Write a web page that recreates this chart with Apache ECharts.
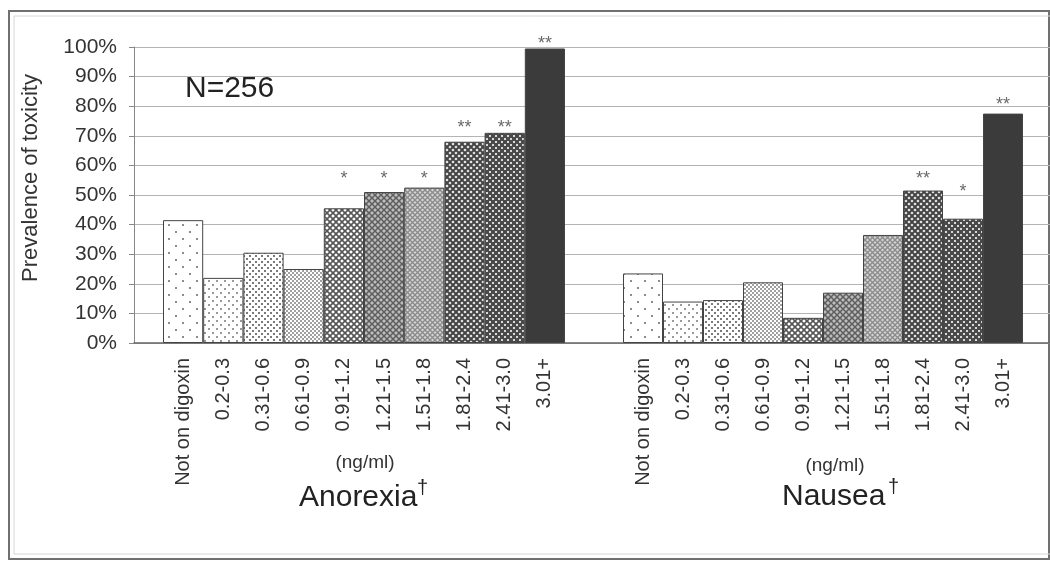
<!DOCTYPE html>
<html>
<head>
<meta charset="utf-8">
<title>Prevalence of toxicity</title>
<script src="https://cdn.jsdelivr.net/npm/echarts@6/dist/echarts.min.js"></script>
<style>
html, body { margin: 0; padding: 0; background: #fff; }
#chart { width: 1050px; height: 565px; }
</style>
</head>
<body>
<div id="chart"></div>
<script>
// 血药浓度分组 (ng/ml)
var levels = ['Not on digoxin', '0.2-0.3', '0.31-0.6', '0.61-0.9', '0.91-1.2',
  '1.21-1.5', '1.51-1.8', '1.81-2.4', '2.41-3.0', '3.01+']
// 毒性发生率 (%)
var anorexia = [41.5, 22, 30.5, 25, 45.5, 51, 52.5, 68, 71, 99.5]
var nausea = [23.5, 14, 14.5, 20.5, 8.5, 17, 36.5, 51.5, 42, 77.5]
// 显著性标记及其高度
var anorexiaStars = ['', '', '', '', '*', '*', '*', '**', '**', '**']
var anorexiaStarAt = [null, null, null, null, 55.5, 55.5, 55.5, 72.5, 72.5, 101]
var nauseaStars = ['', '', '', '', '', '', '', '**', '*', '**']
var nauseaStarAt = [null, null, null, null, null, null, null, 55.5, 51, 80.5]
// Y轴刻度
var yTickLabels = ['0%', '10%', '20%', '30%', '40%', '50%', '60%', '70%', '80%', '90%', '100%']

var FONT = '"Liberation Sans", Arial, sans-serif'

// 填充图案
function makePattern (size, bg, draw) {
  var c = document.createElement('canvas')
  c.width = size
  c.height = size
  var ctx = c.getContext('2d')
  ctx.fillStyle = bg
  ctx.fillRect(0, 0, size, size)
  draw(ctx, size)
  return { image: c, repeat: 'repeat' }
}
function dots (size, bg, fg, d) {
  return makePattern(size, bg, function (ctx, s) {
    ctx.fillStyle = fg
    ctx.fillRect(0, 0, d, d)
    ctx.fillRect(s / 2, s / 2, d, d)
  })
}
function lattice (size, bg, fg, w) {
  return makePattern(size, bg, function (ctx, s) {
    ctx.strokeStyle = fg
    ctx.lineWidth = w
    ctx.beginPath()
    ctx.moveTo(0, 0)
    ctx.lineTo(s, s)
    ctx.moveTo(s, 0)
    ctx.lineTo(0, s)
    ctx.stroke()
  })
}
var patterns = [
  dots(14, '#fff', '#8c8c8c', 2),
  dots(8, '#fff', '#9a9a9a', 2),
  dots(6, '#fff', '#7a7a7a', 2),
  dots(4, '#fff', '#a0a0a0', 2),
  lattice(6, '#fff', '#555', 1.6),
  lattice(6, '#bdbdbd', '#5e5e5e', 1.5),
  lattice(5, '#d4d4d4', '#8a8a8a', 1.3),
  lattice(6, '#f0f0f0', '#444', 2),
  dots(6, '#4a4a4a', '#d8d8d8', 2),
  '#3b3b3b'
]

function barData (values) {
  return values.map(function (v, i) {
    return { value: v, itemStyle: { color: patterns[i] } }
  })
}
function starSeries (axis, at, marks) {
  return {
    type: 'scatter',
    xAxisIndex: axis,
    yAxisIndex: axis,
    data: at,
    symbolSize: 1,
    clip: false,
    itemStyle: { color: 'rgba(0,0,0,0)' },
    label: {
      show: true,
      position: 'inside',
      fontFamily: FONT,
      fontSize: 18,
      color: '#444',
      formatter: function (p) { return marks[p.dataIndex] }
    },
    z: 5
  }
}
function groupXAxis (idx) {
  return {
    type: 'category',
    gridIndex: idx,
    data: levels,
    axisLine: { show: false },
    axisTick: { show: false },
    axisLabel: {
      interval: 0,
      rotate: 90,
      margin: 15,
      fontFamily: FONT,
      fontSize: 20,
      color: '#333'
    }
  }
}
function hiddenYAxis (idx) {
  return { type: 'value', gridIndex: idx, min: 0, max: 100, show: false }
}

var chart = echarts.init(document.getElementById('chart'))
chart.setOption({
  animation: false,
  backgroundColor: '#fff',
  grid: [
    { left: 134, right: 0, top: 47, bottom: 222 },
    { left: 163, width: 402, top: 47, bottom: 222 },
    { left: 623, width: 400, top: 47, bottom: 222 }
  ],
  xAxis: [
    {
      type: 'category',
      gridIndex: 0,
      data: [''],
      axisLine: { lineStyle: { color: '#666', width: 1.5 } },
      axisTick: { show: false },
      axisLabel: { show: false }
    },
    groupXAxis(1),
    groupXAxis(2)
  ],
  yAxis: [
    {
      type: 'value',
      gridIndex: 0,
      min: 0,
      max: 100,
      interval: 10,
      axisLine: { show: true, lineStyle: { color: '#888' } },
      axisTick: { show: true, length: 5, lineStyle: { color: '#888' } },
      splitLine: { lineStyle: { color: '#b4b4b4' } },
      axisLabel: {
        margin: 17,
        fontFamily: FONT,
        fontSize: 21,
        color: '#333',
        formatter: function (v) { return yTickLabels[Math.round(v / 10)] }
      }
    },
    hiddenYAxis(1),
    hiddenYAxis(2)
  ],
  series: [
    {
      name: 'Anorexia',
      type: 'bar',
      xAxisIndex: 1,
      yAxisIndex: 1,
      barCategoryGap: '0%',
      data: barData(anorexia),
      itemStyle: { borderColor: '#444', borderWidth: 1 }
    },
    {
      name: 'Nausea',
      type: 'bar',
      xAxisIndex: 2,
      yAxisIndex: 2,
      barCategoryGap: '0%',
      data: barData(nausea),
      itemStyle: { borderColor: '#444', borderWidth: 1 }
    },
    starSeries(1, anorexiaStarAt, anorexiaStars),
    starSeries(2, nauseaStarAt, nauseaStars)
  ],
  graphic: [
    // 外框
    {
      type: 'rect', z: -10, silent: true,
      shape: { x: 9, y: 11, width: 1040, height: 548 },
      style: { fill: 'none', stroke: '#707070', lineWidth: 2 }
    },
    {
      type: 'rect', z: -10, silent: true,
      shape: { x: 14, y: 16, width: 1040, height: 538 },
      style: { fill: 'none', stroke: '#d6d6d6', lineWidth: 1 }
    },
    {
      type: 'text', rotation: Math.PI / 2, x: 31, y: 178,
      style: { text: 'Prevalence of toxicity', font: '22px ' + FONT, fill: '#333', textAlign: 'center', textVerticalAlign: 'middle' }
    },
    {
      type: 'text', x: 185, y: 89,
      style: { text: 'N=256', font: '30px ' + FONT, fill: '#222', textAlign: 'left', textVerticalAlign: 'middle' }
    },
    {
      type: 'text', x: 365, y: 463,
      style: { text: '(ng/ml)', font: '19px ' + FONT, fill: '#333', textAlign: 'center', textVerticalAlign: 'middle' }
    },
    {
      type: 'text', x: 835, y: 466,
      style: { text: '(ng/ml)', font: '19px ' + FONT, fill: '#333', textAlign: 'center', textVerticalAlign: 'middle' }
    },
    {
      type: 'text', x: 299, y: 498,
      style: { text: 'Anorexia', font: '30px ' + FONT, fill: '#222', textAlign: 'left', textVerticalAlign: 'middle' }
    },
    {
      type: 'text', x: 417, y: 488,
      style: { text: '†', font: '20px ' + FONT, fill: '#222', textAlign: 'left', textVerticalAlign: 'middle' }
    },
    {
      type: 'text', x: 782, y: 497,
      style: { text: 'Nausea', font: '30px ' + FONT, fill: '#222', textAlign: 'left', textVerticalAlign: 'middle' }
    },
    {
      type: 'text', x: 888, y: 487,
      style: { text: '†', font: '20px ' + FONT, fill: '#222', textAlign: 'left', textVerticalAlign: 'middle' }
    }
  ]
})
</script>
</body>
</html>
